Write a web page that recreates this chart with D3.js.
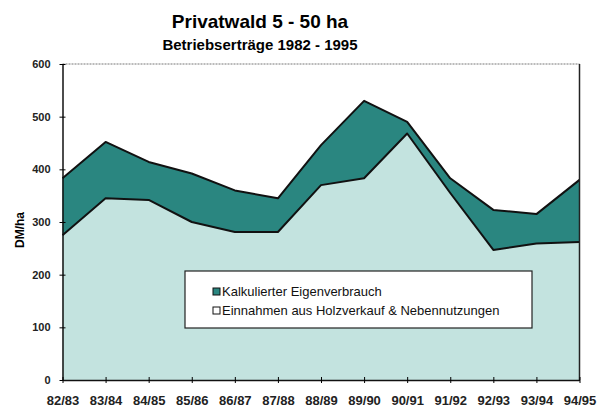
<!DOCTYPE html>
<html>
<head>
<meta charset="utf-8">
<script src="https://cdn.jsdelivr.net/npm/d3@7"></script>
<style>
  body { margin: 0; background: #fff; }
  svg { display: block; font-family: "Liberation Sans", Arial, sans-serif; }
</style>
</head>
<body>
<svg id="chart" width="608" height="407"></svg>
<script>
// wirtschaftsjahre
var categories = ["82/83", "83/84", "84/85", "85/86", "86/87", "87/88", "88/89",
                  "89/90", "90/91", "91/92", "92/93", "93/94", "94/95"];
// Einnahmen aus Holzverkauf & Nebennutzungen (DM/ha)
var einnahmen = [275, 345, 342, 300, 281, 281, 370, 383, 468, 355, 247, 259, 262];
// Kalkulierter Eigenverbrauch (DM/ha), oben drauf gestapelt
var eigenverbrauch = [108, 107, 72, 92, 79, 64, 76, 147, 22, 28, 76, 56, 118];
var yTicks = [0, 100, 200, 300, 400, 500, 600];
var legendLabels = ["Kalkulierter Eigenverbrauch", "Einnahmen aus Holzverkauf & Nebennutzungen"];

var svg = d3.select("#chart");
var mLeft = 62.5, mRight = 579.5, mTop = 64, mBottom = 380;

var rows = categories.map(function (c, i) {
    return { cat: c, einnahmen: einnahmen[i], eigen: eigenverbrauch[i] };
});
var series = d3.stack().keys(["einnahmen", "eigen"])(rows);

var x = d3.scalePoint().domain(categories).range([mLeft, mRight]);
var y = d3.scaleLinear().domain([0, 600]).range([mBottom, mTop]);

var fills = { einnahmen: "#c3e3df", eigen: "#2a8680" };

// titel
svg.append("text").attr("x", 260).attr("y", 28).attr("text-anchor", "middle")
    .style("font-size", "19px").style("font-weight", "bold").text("Privatwald 5 - 50 ha");
svg.append("text").attr("x", 260).attr("y", 50).attr("text-anchor", "middle")
    .style("font-size", "15px").style("font-weight", "bold").text("Betriebserträge 1982 - 1995");

// flaechen
var area = d3.area()
    .x(function (d) { return x(d.data.cat); })
    .y0(function (d) { return y(d[0]); })
    .y1(function (d) { return y(d[1]); });

svg.selectAll("path.area").data(series).enter().append("path")
    .attr("class", "area")
    .attr("d", area)
    .attr("fill", function (d) { return fills[d.key]; });

var line = d3.line()
    .x(function (d) { return x(d.data.cat); })
    .y(function (d) { return y(d[1]); });

svg.selectAll("path.line").data(series).enter().append("path")
    .attr("class", "line")
    .attr("d", line)
    .attr("fill", "none")
    .attr("stroke", "#111")
    .attr("stroke-width", 2)
    .attr("stroke-linejoin", "round");

// rahmen oben + rechts
svg.append("line").attr("x1", mLeft).attr("x2", mRight).attr("y1", mTop).attr("y2", mTop)
    .attr("stroke", "#777").attr("stroke-dasharray", "2,1");
svg.append("line").attr("x1", mRight).attr("x2", mRight).attr("y1", mTop).attr("y2", mBottom)
    .attr("stroke", "#222").attr("stroke-width", 1.5);

// achsen
var yAxis = svg.append("g").attr("transform", "translate(" + mLeft + ",0)")
    .call(d3.axisLeft(y).tickValues(yTicks).tickSizeInner(3).tickSizeOuter(0).tickPadding(9));
yAxis.selectAll(".tick line").attr("x1", 3);
yAxis.selectAll("text").style("font-size", "11px").style("font-weight", "bold").attr("fill", "#222");

var xAxis = svg.append("g").attr("transform", "translate(0," + mBottom + ")")
    .call(d3.axisBottom(x).tickSizeInner(3).tickSizeOuter(0));
xAxis.selectAll(".tick line").attr("y1", -3);
xAxis.selectAll("text").attr("dy", null).attr("y", 25)
    .style("font-size", "13px").style("font-weight", "bold").attr("fill", "#222");
svg.selectAll(".domain").attr("stroke", "#111").attr("stroke-width", 1.5);

svg.append("text").attr("transform", "translate(24,230) rotate(-90)")
    .attr("text-anchor", "middle").style("font-size", "12px").style("font-weight", "bold")
    .text("DM/ha");

// legende
var lg = svg.append("g").attr("transform", "translate(185,271)");
lg.append("rect").attr("width", 347).attr("height", 57)
    .attr("fill", "#fff").attr("stroke", "#222").attr("stroke-width", 1.2);
var swatch = [fills.eigen, "#fff"];
legendLabels.forEach(function (t, i) {
    var yy = 25 + i * 19;
    lg.append("rect").attr("x", 28).attr("y", yy - 8).attr("width", 7).attr("height", 7)
        .attr("fill", swatch[i]).attr("stroke", "#111").attr("stroke-width", 1);
    lg.append("text").attr("x", 37).attr("y", yy).style("font-size", "13px")
        .attr("fill", "#111").text(t);
});
</script>
</body>
</html>
